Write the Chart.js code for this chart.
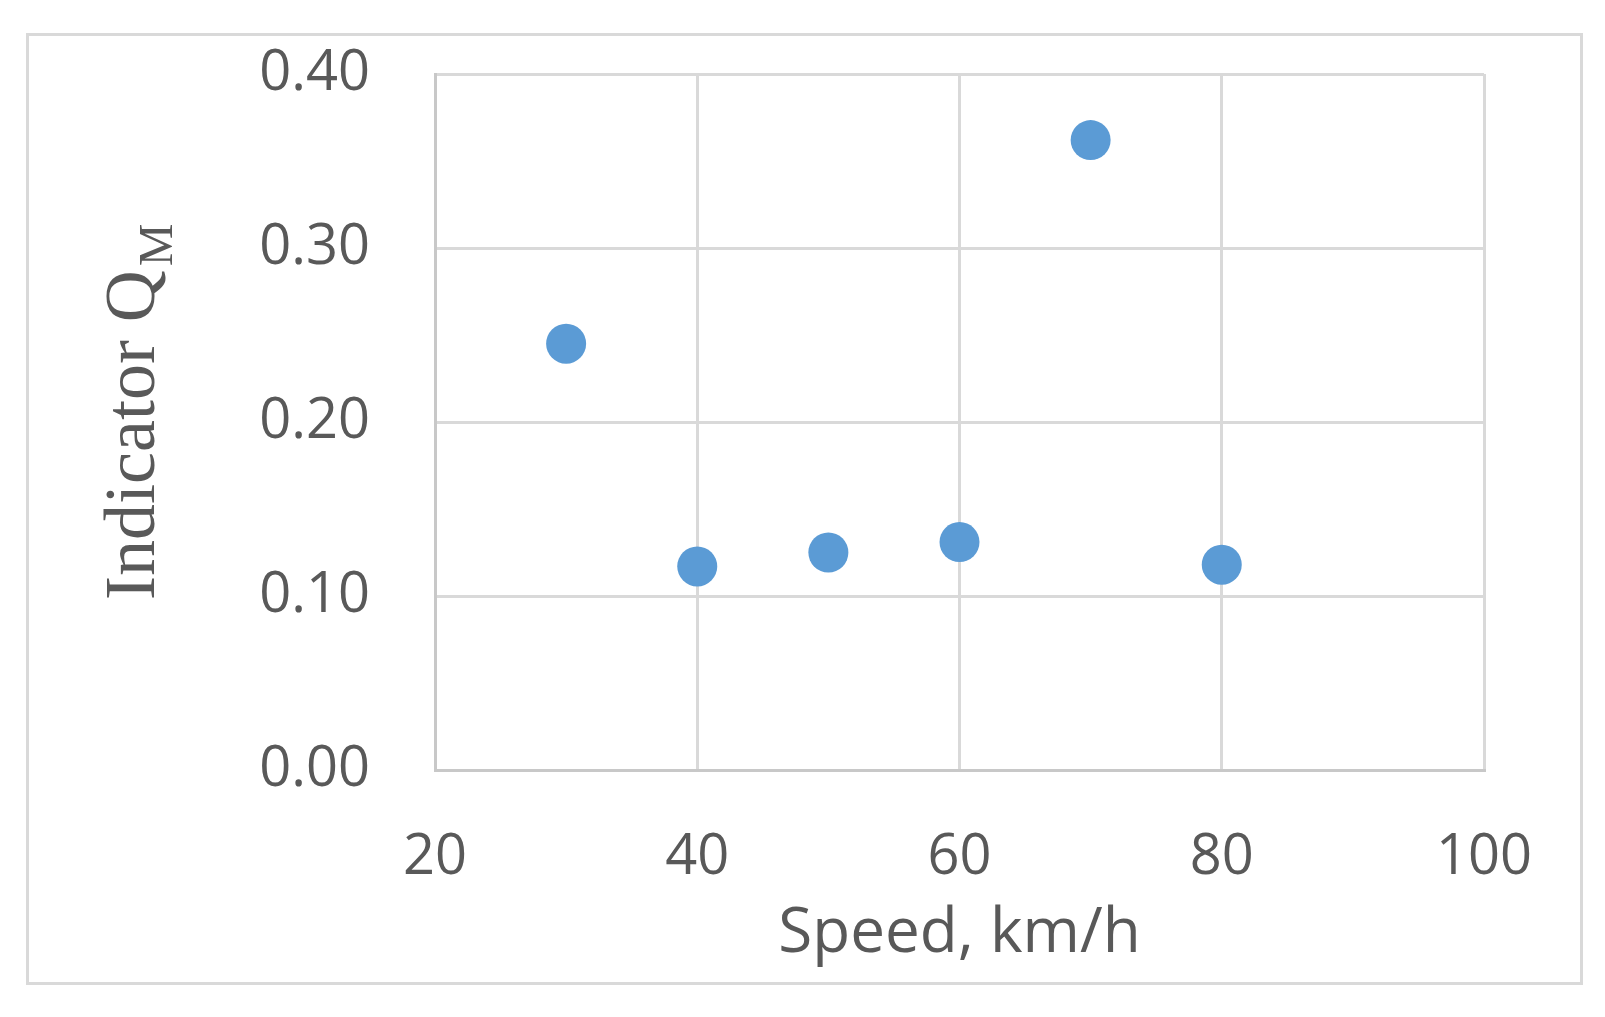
<!DOCTYPE html>
<html>
<head>
<meta charset="utf-8">
<script src="https://cdn.jsdelivr.net/npm/chart.js@4/dist/chart.umd.min.js"></script>
<style>
  html, body { margin: 0; padding: 0; background: #ffffff; }
  #wrap { width: 1605px; height: 1017px; }
</style>
</head>
<body>
<div id="wrap"><canvas id="c" width="1605" height="1017"></canvas></div>
<script>
// Data
const speeds = [30, 40, 50, 60, 70, 80];
const indicatorQM = [0.245, 0.117, 0.125, 0.131, 0.362, 0.118];
const xTicks = [20, 40, 60, 80, 100];
const yTicks = [0.00, 0.10, 0.20, 0.30, 0.40];
const xTitle = 'Speed, km/h';
const yTitleMain = 'Indicator Q';
const yTitleSub = 'M';

const textColor = '#595959';
const gridColor = '#d9d9d9';

const frame = {
  id: 'frame',
  beforeDraw(chart) {
    const ctx = chart.ctx;
    ctx.save();
    ctx.fillStyle = '#ffffff';
    ctx.fillRect(0, 0, chart.width, chart.height);
    ctx.strokeStyle = '#d9d9d9';
    ctx.lineWidth = 3;
    ctx.strokeRect(27.5, 34.5, 1554, 949);
    ctx.restore();
  },
  afterDraw(chart) {
    const ctx = chart.ctx;
    ctx.save();
    ctx.fillStyle = textColor;
    ctx.translate(154, 600);
    ctx.rotate(-Math.PI / 2);
    ctx.textBaseline = 'alphabetic';
    ctx.textAlign = 'left';
    ctx.font = '72px "Liberation Serif", "Times New Roman", serif';
    ctx.fillText(yTitleMain, 0, 0);
    const w = ctx.measureText(yTitleMain).width;
    ctx.font = '48px "Liberation Serif", "Times New Roman", serif';
    ctx.fillText(yTitleSub, w + 4, 18);
    ctx.restore();
  }
};

const data = {
  datasets: [{
    label: 'Indicator QM',
    data: speeds.map((s, i) => ({ x: s, y: indicatorQM[i] })),
    backgroundColor: '#5b9bd5',
    borderWidth: 0,
    pointRadius: 20,
    pointHoverRadius: 20
  }]
};

new Chart(document.getElementById('c'), {
  type: 'scatter',
  data,
  plugins: [frame],
  options: {
    responsive: false,
    animation: false,
    events: [],
    layout: { padding: { left: 0, right: 121, top: 74, bottom: 0 } },
    plugins: { legend: { display: false }, tooltip: { enabled: false } },
    scales: {
      x: {
        type: 'linear',
        min: xTicks[0],
        max: xTicks[xTicks.length - 1],
        afterBuildTicks: s => { s.ticks = xTicks.map(v => ({ value: v })); },
        afterFit: s => { s.height = 247; s.paddingLeft = 0; s.paddingRight = 0; },
        grid: { color: gridColor, lineWidth: 3, drawTicks: false },
        border: { color: '#c8c8c8', width: 3 },
        ticks: {
          padding: 54,
          color: textColor,
          font: { family: '"Open Sans", sans-serif', size: 56 },
          callback: v => String(v)
        },
        title: {
          display: true,
          text: xTitle,
          color: textColor,
          font: { family: '"Open Sans", sans-serif', size: 62 },
          padding: { top: 0, bottom: 45 }
        }
      },
      y: {
        type: 'linear',
        min: yTicks[0],
        max: yTicks[yTicks.length - 1],
        afterBuildTicks: s => { s.ticks = yTicks.map(v => ({ value: v })); },
        afterFit: s => { s.width = 435; s.paddingTop = 0; s.paddingBottom = 0; },
        grid: { color: gridColor, lineWidth: 3, drawTicks: false },
        border: { color: '#c8c8c8', width: 3 },
        ticks: {
          padding: 65,
          color: textColor,
          font: { family: '"Open Sans", sans-serif', size: 56 },
          callback: v => Number(v).toFixed(2)
        }
      }
    }
  }
});
</script>
</body>
</html>
